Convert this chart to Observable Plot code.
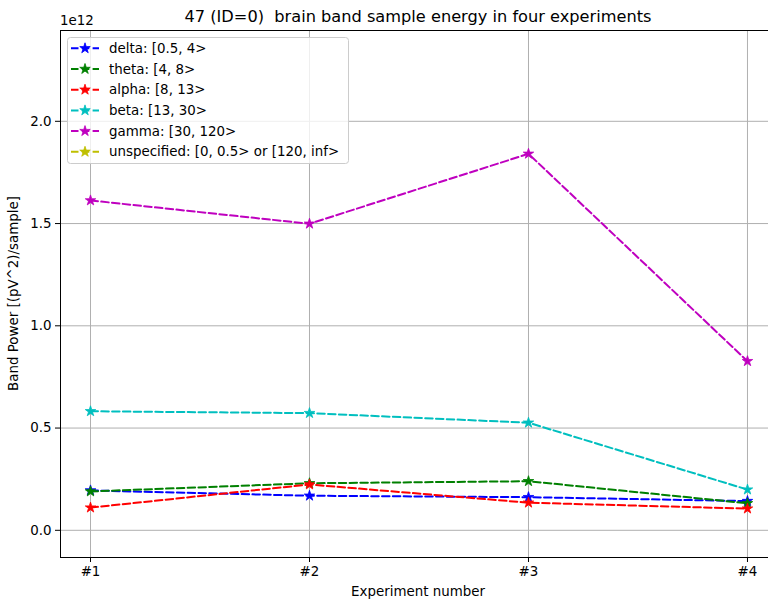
<!DOCTYPE html>
<html>
<head>
<meta charset="utf-8">
<script src="https://cdn.jsdelivr.net/npm/d3@7"></script>
<script src="https://cdn.jsdelivr.net/npm/@observablehq/plot@0.6"></script>
<style>
  html, body { margin: 0; padding: 0; background: #fff; }
  #chart svg { display: block; }
</style>
</head>
<body>
<div id="chart"></div>
<script>
// ---- data (band power, pV^2/sample) ----
const experiments = [1, 2, 3, 4];
const expLabels = ["#1", "#2", "#3", "#4"];
const delta = [0.195e12, 0.169e12, 0.162e12, 0.143e12];
const theta = [0.190e12, 0.230e12, 0.240e12, 0.132e12];
const alpha = [0.111e12, 0.224e12, 0.135e12, 0.106e12];
const beta = [0.582e12, 0.573e12, 0.526e12, 0.199e12];
const gamma = [1.613e12, 1.499e12, 1.841e12, 0.827e12];
const unspecified = [null, null, null, null];
const seriesNames = ["delta: [0.5, 4>", "theta: [4, 8>", "alpha: [8, 13>", "beta: [13, 30>", "gamma: [30, 120>", "unspecified: [0, 0.5> or [120, inf>"];
const seriesValues = [delta, theta, alpha, beta, gamma, unspecified];
const seriesColors = ["#0000ff", "#008000", "#ff0000", "#00bfbf", "#bf00bf", "#bfbf00"];
const yTicks = [0, 0.5, 1.0, 1.5, 2.0];
const title = "47 (ID=0)  brain band sample energy in four experiments";
const xLabel = "Experiment number";
const yLabel = "Band Power [(pV^2)/sample]";
const offsetLabel = "1e12";
const SCALE = 1e12;

// tidy table
const rows = [];
seriesValues.forEach((vals, si) => {
  vals.forEach((v, i) => {
    rows.push({series: si, x: experiments[i], y: v == null ? NaN : v / SCALE});
  });
});

const W = 768, H = 603;
const mL = 60, mT = 30, mB = 46, mR = 0;
const xDomain = [0.863, 4.096];
const yDomain = [-0.133, 2.444];
const font = "DejaVu Sans, sans-serif";
const dash = "7.5,3.3";
const starR = 3.3;

const marks = [
  Plot.gridX(experiments, {stroke: "#b0b0b0", strokeOpacity: 1, strokeWidth: 1}),
  Plot.gridY(yTicks, {stroke: "#b0b0b0", strokeOpacity: 1, strokeWidth: 1}),
  Plot.axisX(experiments, {tickSize: 5, tickPadding: 4, tickFormat: (d, i) => expLabels[i], fontSize: 13.4, fill: "#000", label: null}),
  Plot.axisY(yTicks, {tickSize: 5, tickPadding: 4, tickFormat: d => d.toFixed(1), fontSize: 13.4, fill: "#000", label: null}),
];
seriesValues.forEach((vals, si) => {
  const d = rows.filter(r => r.series === si);
  marks.push(Plot.line(d, {x: "x", y: "y", stroke: seriesColors[si], strokeWidth: 2, strokeDasharray: dash}));
  marks.push(Plot.dot(d, {x: "x", y: "y", symbol: "star", r: starR, fill: seriesColors[si], stroke: seriesColors[si], strokeWidth: 0.8}));
});
// frame: left, bottom, top spines
marks.push(Plot.ruleX([xDomain[0]], {stroke: "#000", strokeWidth: 1}));
marks.push(Plot.ruleY([yDomain[0]], {stroke: "#000", strokeWidth: 1}));
marks.push(Plot.ruleY([yDomain[1]], {stroke: "#000", strokeWidth: 1}));

const chart = Plot.plot({
  width: W, height: H,
  marginLeft: mL, marginTop: mT, marginBottom: mB, marginRight: mR,
  x: {type: "linear", domain: xDomain},
  y: {type: "linear", domain: yDomain},
  style: {fontFamily: font, fontSize: "13px", color: "#000", background: "#fff", overflow: "visible"},
  marks
});

const svg = d3.select(chart);
const plotCx = 418;
// title
svg.append("text").attr("x", plotCx).attr("y", 22).attr("text-anchor", "middle")
  .attr("font-family", font).attr("font-size", 16.2).attr("fill", "#000").text(title);
// offset label
svg.append("text").attr("x", 60).attr("y", 25).attr("text-anchor", "start")
  .attr("font-family", font).attr("font-size", 13.4).attr("fill", "#000").text(offsetLabel);
// x label
svg.append("text").attr("x", plotCx).attr("y", 596).attr("text-anchor", "middle")
  .attr("font-family", font).attr("font-size", 13.4).attr("fill", "#000").text(xLabel);
// y label
svg.append("text").attr("transform", `translate(18,${(mT + H - mB) / 2}) rotate(-90)`).attr("text-anchor", "middle")
  .attr("font-family", font).attr("font-size", 13.4).attr("fill", "#000").text(yLabel);

// legend
const lg = svg.append("g");
const lx = 67, ly = 37, lw = 281, lh = 126, rowH = 20.7;
lg.append("rect").attr("x", lx + 0.5).attr("y", ly + 0.5).attr("width", lw).attr("height", lh)
  .attr("rx", 3).attr("fill", "#fff").attr("fill-opacity", 0.8).attr("stroke", "#cccccc").attr("stroke-width", 1);
const star = d3.symbol(d3.symbolStar, Math.PI * starR * starR)();
seriesNames.forEach((name, i) => {
  const cy = 48.3 + i * rowH;
  lg.append("line").attr("x1", 71).attr("x2", 99).attr("y1", cy).attr("y2", cy)
    .attr("stroke", seriesColors[i]).attr("stroke-width", 2).attr("stroke-dasharray", dash);
  lg.append("path").attr("d", star).attr("transform", `translate(85,${cy})`)
    .attr("fill", seriesColors[i]).attr("stroke", seriesColors[i]).attr("stroke-width", 0.8);
  lg.append("text").attr("x", 109).attr("y", cy).attr("dy", "0.35em").attr("text-anchor", "start")
    .attr("font-family", font).attr("font-size", 13.4).attr("fill", "#000").text(name);
});

document.getElementById("chart").appendChild(chart);
</script>
</body>
</html>
